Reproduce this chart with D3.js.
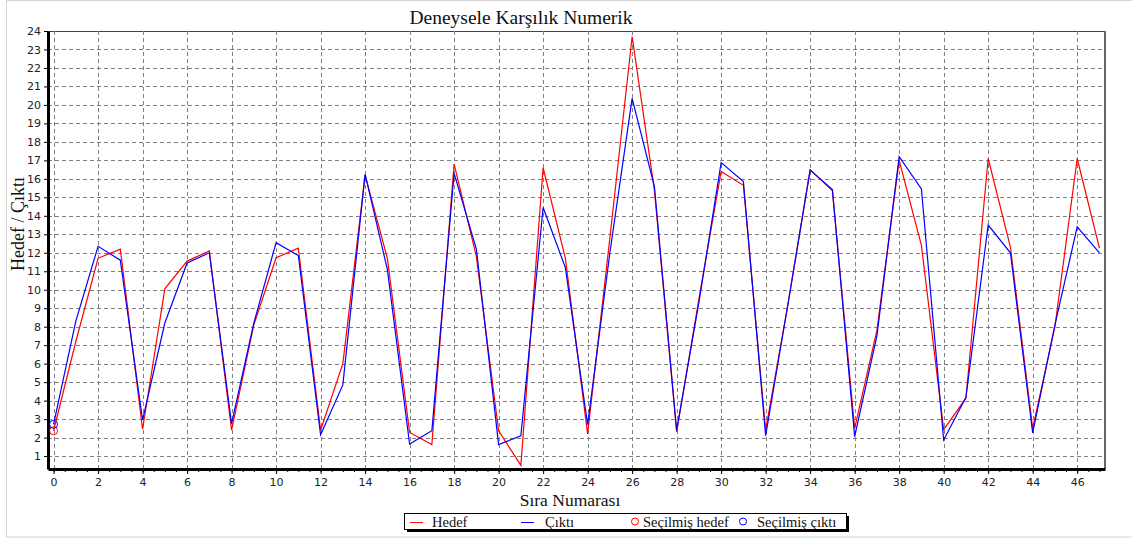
<!DOCTYPE html>
<html>
<head>
	<meta charset="utf-8">
	<title>Deneysele Karşılık Numerik</title>
	<style>
		body { margin: 0; background: #fff; }
	</style>
</head>
<body>
	<script src="https://d3js.org/d3.v7.min.js"></script> <!-- using d3.js library-->

<script>

	// values, one per Sıra Numarası (0..47)
	var hedef = [2.37, 7.2, 11.7, 12.2, 2.45, 10.05, 11.55, 12.1, 2.4, 8.1,
		11.73, 12.25, 2.4, 6.0, 16.2, 11.7, 2.28, 1.62, 16.8, 11.8,
		2.37, 0.5, 16.6, 11.7, 2.2, 12.8, 23.7, 15.4, 2.3, 9.5,
		16.4, 15.65, 2.4, 9.2, 16.5, 15.35, 2.5, 7.8, 17.0, 12.4,
		2.43, 4.13, 17.1, 12.3, 2.5, 8.0, 17.1, 12.25];

	var cikti = [2.72, 8.3, 12.35, 11.6, 2.95, 8.2, 11.45, 12.0, 2.75, 8.2,
		12.55, 11.85, 2.15, 4.85, 16.25, 11.1, 1.65, 2.37, 16.3, 12.2,
		1.62, 2.1, 14.45, 11.2, 2.7, 12.0, 20.35, 15.6, 2.4, 9.3,
		16.88, 15.85, 2.1, 9.2, 16.47, 15.42, 2.05, 7.5, 17.2, 15.45,
		1.87, 4.18, 13.5, 12.0, 2.25, 8.1, 13.4, 12.0];

	var secilmisHedef = [{x: 0, y: 2.37}];
	var secilmisCikti = [{x: 0, y: 2.72}];

	var xTicks = d3.range(0, 47, 2),
		xMinorTicks = d3.range(0, 47.5, 0.5),
		yTicks = d3.range(1, 25, 1);

	var legendItems = [
		{label: "Hedef", color: "#ff0000", type: "line"},
		{label: "Çıktı", color: "#0000ff", type: "line"},
		{label: "Seçilmiş hedef", color: "#ff0000", type: "circle"},
		{label: "Seçilmiş çıktı", color: "#0000ff", type: "circle"}
	];

	var width = 1132,
		height = 538,
		plotLeft = 48,
		plotRight = 1105,
		plotTop = 31,
		plotBottom = 469,
		gridColor = "#808080",
		serif = "'Liberation Serif', 'Times New Roman', serif",
		sans = "'DejaVu Sans', Tahoma, sans-serif";

	var svg = d3.select("body")
		.append("svg")
		.attr("width", width)
		.attr("height", height);

	// outer light frame
	svg.append("rect")
		.attr("x", 6.5).attr("y", 0.5)
		.attr("width", width - 6).attr("height", height - 1.5)
		.attr("fill", "#fff")
		.attr("stroke", "#d4d4d4");

	var x = d3.scaleLinear().domain([-0.25, 47.25]).range([plotLeft, plotRight]);
	var y = d3.scaleLinear().domain([0.3, 24]).range([plotBottom, plotTop]);

	// plot frame top / right
	svg.append("line")
		.attr("x1", plotLeft).attr("x2", plotRight)
		.attr("y1", plotTop + 0.5).attr("y2", plotTop + 0.5)
		.attr("stroke", "#444");
	svg.append("line")
		.attr("x1", plotRight).attr("x2", plotRight)
		.attr("y1", plotTop).attr("y2", plotBottom)
		.attr("stroke", "#666").attr("stroke-width", 2);

	// grid
	svg.append("g").selectAll("line")
		.data(yTicks.filter(function (d) { return d < 24; }))
		.join("line")
		.attr("x1", plotLeft).attr("x2", plotRight)
		.attr("y1", function (d) { return Math.round(y(d)) + 0.5; })
		.attr("y2", function (d) { return Math.round(y(d)) + 0.5; })
		.attr("stroke", gridColor)
		.attr("stroke-dasharray", "4,3");

	svg.append("g").selectAll("line")
		.data(xTicks)
		.join("line")
		.attr("x1", function (d) { return Math.round(x(d)) + 0.5; })
		.attr("x2", function (d) { return Math.round(x(d)) + 0.5; })
		.attr("y1", plotTop).attr("y2", plotBottom)
		.attr("stroke", gridColor)
		.attr("stroke-dasharray", "4,3");

	// axes
	var xAxis = svg.append("g")
		.attr("transform", "translate(0," + plotBottom + ")")
		.call(d3.axisBottom(x).tickValues(xTicks).tickSizeInner(5).tickSizeOuter(0).tickPadding(4));
	svg.append("g")
		.attr("transform", "translate(0," + plotBottom + ")")
		.call(d3.axisBottom(x).tickValues(xMinorTicks).tickSize(3).tickFormat(""))
		.select(".domain").remove();

	var yAxis = svg.append("g")
		.attr("transform", "translate(" + plotLeft + ",0)")
		.call(d3.axisLeft(y).tickValues(yTicks).tickSizeInner(4).tickSizeOuter(0).tickPadding(3));

	[xAxis, yAxis].forEach(function (g) {
		g.select(".domain").attr("stroke", "#000").attr("stroke-width", 3);
		g.selectAll("text")
			.attr("font-family", sans)
			.attr("font-size", 11)
			.attr("fill", "#222");
	});

	// series
	var line = d3.line()
		.x(function (d, i) { return x(i); })
		.y(function (d) { return y(d); });

	svg.append("path")
		.datum(hedef)
		.attr("d", line)
		.attr("fill", "none")
		.attr("stroke", "#ff0000")
		.attr("stroke-width", 1.2);

	svg.append("path")
		.datum(cikti)
		.attr("d", line)
		.attr("fill", "none")
		.attr("stroke", "#0000ff")
		.attr("stroke-width", 1.2);

	// selected points
	svg.selectAll(".sel-h")
		.data(secilmisHedef)
		.join("circle")
		.attr("cx", function (d) { return x(d.x); })
		.attr("cy", function (d) { return y(d.y); })
		.attr("r", 4)
		.attr("fill", "none")
		.attr("stroke", "#ff0000");

	svg.selectAll(".sel-c")
		.data(secilmisCikti)
		.join("circle")
		.attr("cx", function (d) { return x(d.x); })
		.attr("cy", function (d) { return y(d.y); })
		.attr("r", 4)
		.attr("fill", "none")
		.attr("stroke", "#0000ff");

	// titles
	svg.append("text")
		.attr("x", 521).attr("y", 24)
		.attr("text-anchor", "middle")
		.attr("font-family", serif)
		.attr("font-size", 19.5)
		.attr("fill", "#111")
		.text("Deneysele Karşılık Numerik");

	svg.append("text")
		.attr("x", 570).attr("y", 506)
		.attr("text-anchor", "middle")
		.attr("font-family", serif)
		.attr("font-size", 17.5)
		.attr("fill", "#111")
		.text("Sıra Numarası");

	svg.append("text")
		.attr("transform", "translate(24,224) rotate(-90)")
		.attr("text-anchor", "middle")
		.attr("font-family", serif)
		.attr("font-size", 18)
		.attr("fill", "#111")
		.text("Hedef / Çıktı");

	// legend
	var legend = svg.append("g");
	legend.append("rect")
		.attr("x", 407).attr("y", 516)
		.attr("width", 442).attr("height", 16)
		.attr("fill", "#000");
	legend.append("rect")
		.attr("x", 404.5).attr("y", 513.5)
		.attr("width", 442).attr("height", 16)
		.attr("fill", "#fff")
		.attr("stroke", "#000");

	var legendX = [410, 521, 632, 740],
		textX = [432, 545, 643, 757];

	legendItems.forEach(function (d, i) {
		if (d.type === "line") {
			legend.append("line")
				.attr("x1", legendX[i]).attr("x2", legendX[i] + 13)
				.attr("y1", 522.5).attr("y2", 522.5)
				.attr("stroke", d.color);
		} else {
			legend.append("circle")
				.attr("cx", legendX[i] + 3).attr("cy", 521.5)
				.attr("r", 3.5)
				.attr("fill", "none")
				.attr("stroke", d.color);
		}
		legend.append("text")
			.attr("x", textX[i]).attr("y", 527)
			.attr("font-family", serif)
			.attr("font-size", 14.5)
			.attr("fill", "#111")
			.text(d.label);
	});

</script>
</body>
</html>
